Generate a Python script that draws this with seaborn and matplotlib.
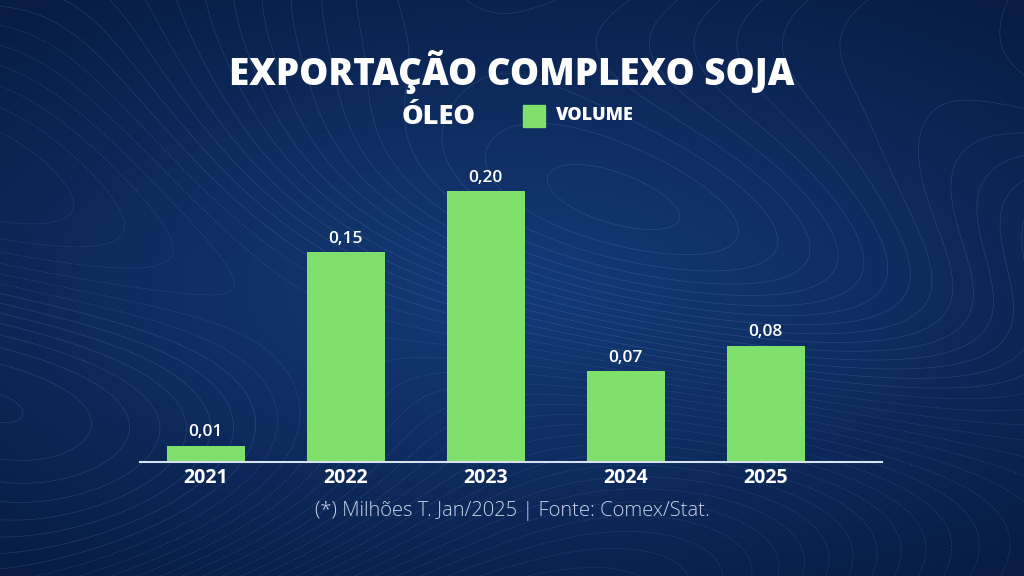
import numpy as np
import pandas as pd
import seaborn as sns
import matplotlib.pyplot as plt
from matplotlib.patches import Rectangle

anos = ['2021', '2022', '2023', '2024', '2025']
volume = [0.012, 0.155, 0.200, 0.067, 0.086]
rotulos = ['0,01', '0,15', '0,20', '0,07', '0,08']

titulo = 'EXPORTAÇÃO COMPLEXO SOJA'
subtitulo = 'ÓLEO'
legenda = 'VOLUME'
fonte = '(*) Milhões T. Jan/2025 | Fonte: Comex/Stat.'

verde = '#7fe06c'
df = pd.DataFrame({'ano': anos, 'volume': volume})

sns.set_theme(style='white')
plt.rcParams['font.family'] = ['Open Sans', 'DejaVu Sans']

fig = plt.figure(figsize=(10.24, 5.76), dpi=100)

# fundo azul com gradiente e linhas de contorno suaves
bg = fig.add_axes([0, 0, 1, 1])
xx, yy = np.meshgrid(np.linspace(-1, 1, 512), np.linspace(-1, 1, 288))
r = np.sqrt((xx * 0.9) ** 2 + (yy * 1.1) ** 2)
grad = np.clip(r / 1.4, 0, 1)
c0 = np.array([0x14, 0x3b, 0x78]) / 255
c1 = np.array([0x08, 0x1c, 0x44]) / 255
img = c0[None, None, :] * (1 - grad[..., None]) + c1[None, None, :] * grad[..., None]
bg.imshow(img, extent=[0, 1, 0, 1], aspect='auto', origin='lower')
f = np.sin(3 * xx + 2 * np.sin(2 * yy)) + 0.8 * np.cos(2.5 * yy - 1.5 * xx) + yy * 1.5
bg.contour(np.linspace(0, 1, 512), np.linspace(0, 1, 288), f, levels=40,
           colors='#7f9fd4', linewidths=0.5, alpha=0.22)
bg.set_xlim(0, 1)
bg.set_ylim(0, 1)
bg.axis('off')

# gráfico de barras
ax = fig.add_axes([140 / 1024, 114 / 576, 742 / 1024, 298 / 576])
ax.patch.set_alpha(0)
sns.barplot(data=df, x='ano', y='volume', color=verde, width=0.56,
            saturation=1, linewidth=0, edgecolor='none', ax=ax)
ax.set_xlim(-0.47, 4.83)
ax.set_ylim(0, 0.22)
for i, (v, t) in enumerate(zip(volume, rotulos)):
    ax.text(i, v + 0.004, t, ha='center', va='bottom', color='white',
            fontsize=12.5, fontweight='semibold')
ax.set_xlabel('')
ax.set_ylabel('')
ax.set_yticks([])
ax.tick_params(axis='x', length=0, pad=4, colors='white', labelsize=14)
for lab in ax.get_xticklabels():
    lab.set_fontweight('bold')
for s in ['top', 'left', 'right']:
    ax.spines[s].set_visible(False)
ax.spines['bottom'].set_color('#d6e2f2')
ax.spines['bottom'].set_linewidth(1.5)

# títulos e legenda
fig.text(0.5, 1 - 72 / 576, titulo, ha='center', va='center', color='white',
         fontsize=26.5, fontweight='heavy')
fig.text(439 / 1024, 1 - 117 / 576, subtitulo, ha='center', va='center',
         color='white', fontsize=19.5, fontweight='heavy')
fig.patches.append(Rectangle((523 / 1024, 1 - 127 / 576), 22 / 1024, 22 / 576,
                             transform=fig.transFigure, color=verde))
fig.text(556 / 1024, 1 - 116 / 576, legenda, ha='left', va='center',
         color='white', fontsize=13, fontweight='heavy')
fig.text(0.5, 1 - 511 / 576, fonte, ha='center', va='center',
         color='#c8d4e8', fontsize=14.5, fontweight='light')

fig.savefig('out.png', dpi=100)
